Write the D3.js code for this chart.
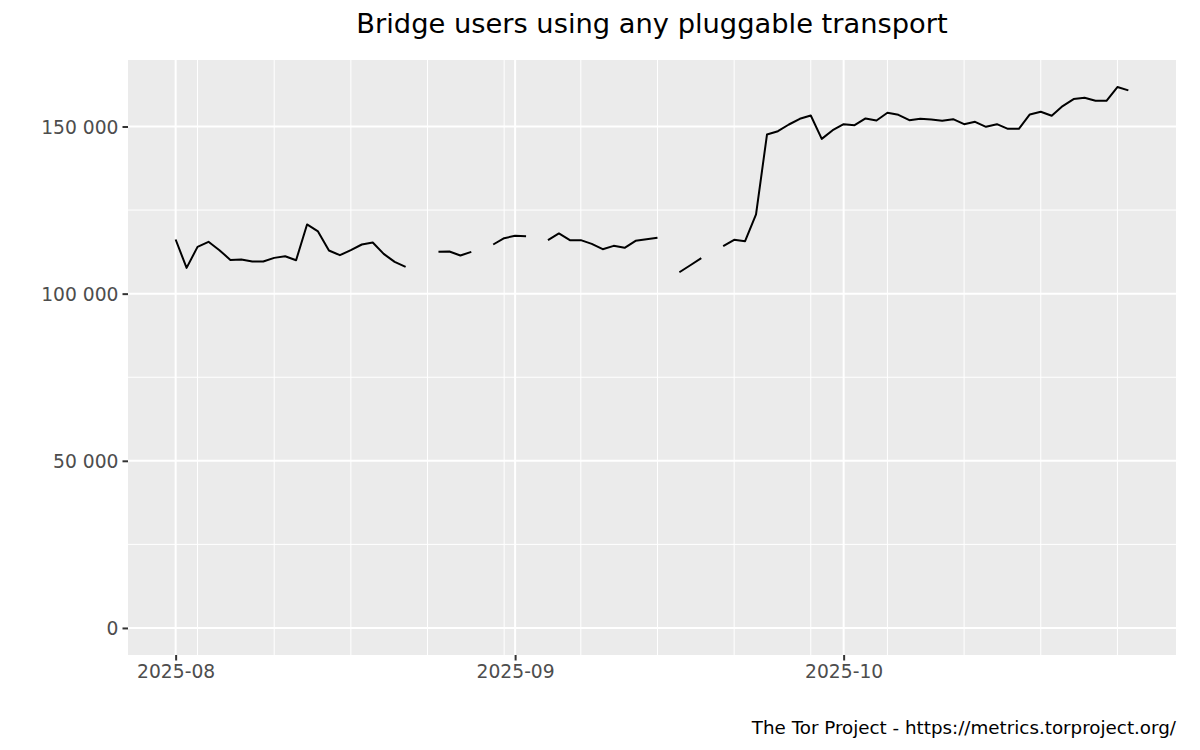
<!DOCTYPE html>
<html>
<head>
<meta charset="utf-8">
<script src="https://cdn.jsdelivr.net/npm/d3@7"></script>
<style>
  body { margin: 0; background: #fff; }
  svg { display: block; font-family: "DejaVu Sans", sans-serif; }
</style>
</head>
<body>
<div id="chart"></div>
<script>
// Dati: un valore al giorno dal 2025-08-01 al 2025-10-27 (null = mancante)
const startDate = '2025-08-01';
const endDate = '2025-10-27';
const users = [
  116200, 107700, 114000, 115500, 113000, 110100, 110200, 109600, 109600, 110700,
  111200, 110000, 120700, 118600, 112900, 111500, 113000, 114700, 115300, 111900,
  109500, 108000, null,   null,   112500, 112600, 111400, 112500, null,   114700,
  116600, 117300, 117200, null,   116000, 118000, 116000, 116000, 114900, 113300,
  114300, 113700, 115800, 116300, 116700, null,   106400, 108500, 110600, null,
  114200, 116100, 115700, 123700, 147600, 148600, 150600, 152300, 153300, 146300,
  148900, 150700, 150400, 152400, 151800, 154100, 153500, 151900, 152300, 152100,
  151700, 152200, 150700, 151400, 149900, 150700, 149300, 149300, 153600, 154400,
  153200, 156100, 158200, 158600, 157700, 157700, 161800, 160800
];
const yTicks = [0, 50000, 100000, 150000];
const yMinorTicks = [25000, 75000, 125000];
const titleText = 'Bridge users using any pluggable transport';
const captionText = 'The Tor Project - https://metrics.torproject.org/';

const width = 1200, height = 750;
const panel = { left: 128, right: 1176, top: 60, bottom: 655 };

const parse = d3.utcParse('%Y-%m-%d');
const t0 = parse(startDate), t1 = parse(endDate);
const dates = d3.utcDay.range(t0, d3.utcDay.offset(t1, 1));
const data = dates.map((d, i) => ({ date: d, value: users[i] }));

// Espansione del 5% come in ggplot
const span = t1 - t0;
const x = d3.scaleUtc()
  .domain([new Date(+t0 - span * 0.05), new Date(+t1 + span * 0.05)])
  .range([panel.left, panel.right]);

const yMax = d3.max(users);
const y = d3.scaleLinear()
  .domain([-yMax * 0.05, yMax * 1.05])
  .range([panel.bottom, panel.top]);

const locale = d3.formatLocale({ decimal: '.', thousands: ' ', grouping: [3], currency: ['', ''] });
const fmt = locale.format(',');

const svg = d3.select('#chart').append('svg')
  .attr('width', width)
  .attr('height', height);

// Sfondo del pannello
svg.append('rect')
  .attr('x', panel.left).attr('y', panel.top)
  .attr('width', panel.right - panel.left)
  .attr('height', panel.bottom - panel.top)
  .attr('fill', '#EBEBEB');

const grid = svg.append('g').attr('stroke', '#fff');

// Griglia secondaria
grid.selectAll('.ymin').data(yMinorTicks).enter().append('line')
  .attr('x1', panel.left).attr('x2', panel.right)
  .attr('y1', d => y(d)).attr('y2', d => y(d))
  .attr('stroke-width', 1);
const weeks = d3.utcSunday.range(x.domain()[0], x.domain()[1]);
grid.selectAll('.xmin').data(weeks).enter().append('line')
  .attr('y1', panel.top).attr('y2', panel.bottom)
  .attr('x1', d => x(d)).attr('x2', d => x(d))
  .attr('stroke-width', 1);

// Griglia principale
const months = d3.utcMonth.range(t0, x.domain()[1]);
grid.selectAll('.ymaj').data(yTicks).enter().append('line')
  .attr('x1', panel.left).attr('x2', panel.right)
  .attr('y1', d => y(d)).attr('y2', d => y(d))
  .attr('stroke-width', 2);
grid.selectAll('.xmaj').data(months).enter().append('line')
  .attr('y1', panel.top).attr('y2', panel.bottom)
  .attr('x1', d => x(d)).attr('x2', d => x(d))
  .attr('stroke-width', 2);

// Linea dei dati
const line = d3.line()
  .defined(d => d.value != null)
  .x(d => x(d.date))
  .y(d => y(d.value));

svg.append('path')
  .datum(data)
  .attr('d', line)
  .attr('fill', 'none')
  .attr('stroke', '#000')
  .attr('stroke-width', 2)
  .attr('stroke-linejoin', 'round');

// Assi
const yAxis = svg.append('g')
  .attr('transform', `translate(${panel.left},0)`)
  .call(d3.axisLeft(y).tickValues(yTicks).tickFormat(fmt).tickSize(5.5).tickPadding(4));
const xAxis = svg.append('g')
  .attr('transform', `translate(0,${panel.bottom})`)
  .call(d3.axisBottom(x).tickValues(months).tickFormat(d3.utcFormat('%Y-%m')).tickSize(5.5).tickPadding(4));

[yAxis, xAxis].forEach(a => {
  a.select('.domain').remove();
  a.selectAll('.tick line').attr('stroke', '#333').attr('stroke-width', 2);
  a.selectAll('.tick text')
    .attr('fill', '#4D4D4D')
    .attr('font-size', '18.7px')
    .attr('font-family', '"DejaVu Sans", sans-serif');
});
yAxis.selectAll('.tick text').attr('dy', '0.36em');

// Titolo
svg.append('text')
  .attr('x', (panel.left + panel.right) / 2)
  .attr('y', 33)
  .attr('text-anchor', 'middle')
  .attr('font-size', '27.3px')
  .attr('fill', '#000')
  .text(titleText);

// Didascalia
svg.append('text')
  .attr('x', panel.right)
  .attr('y', 734)
  .attr('text-anchor', 'end')
  .attr('font-size', '18.3px')
  .attr('fill', '#000')
  .text(captionText);
</script>
</body>
</html>
